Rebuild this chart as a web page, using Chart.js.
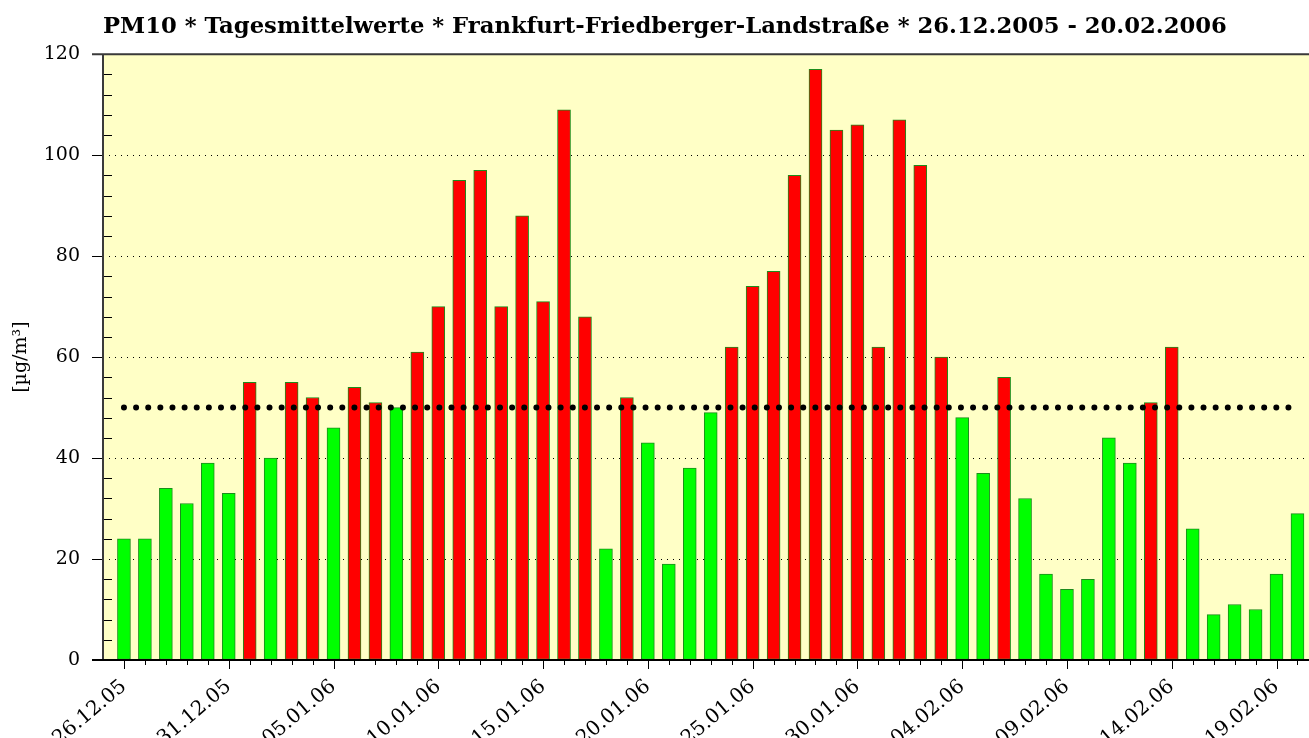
<!DOCTYPE html>
<html>
<head>
<meta charset="utf-8">
<script src="https://cdn.jsdelivr.net/npm/chart.js@4.4.0/dist/chart.umd.min.js"></script>
<style>
  html, body { margin: 0; padding: 0; background: #fff; }
  #wrap { width: 1309px; height: 738px; position: relative; }
</style>
</head>
<body>
<div id="wrap"><canvas id="pm10Chart"></canvas></div>
<script>
// --- DONNÉES ---
const dayLabels = [
  '26.12.05', '27.12.05', '28.12.05', '29.12.05', '30.12.05', '31.12.05',
  '01.01.06', '02.01.06', '03.01.06', '04.01.06', '05.01.06', '06.01.06', '07.01.06', '08.01.06',
  '09.01.06', '10.01.06', '11.01.06', '12.01.06', '13.01.06', '14.01.06', '15.01.06', '16.01.06',
  '17.01.06', '18.01.06', '19.01.06', '20.01.06', '21.01.06', '22.01.06', '23.01.06', '24.01.06',
  '25.01.06', '26.01.06', '27.01.06', '28.01.06', '29.01.06', '30.01.06', '31.01.06',
  '01.02.06', '02.02.06', '03.02.06', '04.02.06', '05.02.06', '06.02.06', '07.02.06', '08.02.06',
  '09.02.06', '10.02.06', '11.02.06', '12.02.06', '13.02.06', '14.02.06', '15.02.06', '16.02.06',
  '17.02.06', '18.02.06', '19.02.06', '20.02.06'
];
const pm10Values = [
  24, 24, 34, 31, 39, 33,
  55, 40, 55, 52, 46, 54, 51, 50,
  61, 70, 95, 97, 70, 88, 71, 109,
  68, 22, 52, 43, 19, 38, 49, 62,
  74, 77, 96, 117, 105, 106, 62,
  107, 98, 60, 48, 37, 56, 32, 17,
  14, 16, 44, 39, 51, 62, 26, 9,
  11, 10, 17, 29
];
const limitValue = 50;          // Grenzwert Tagesmittel
const yTickLabels = [0, 20, 40, 60, 80, 100, 120];

// --- STYLES ---
const plotBg = '#ffffc6';
const colorOver = '#ff0000';
const colorUnder = '#00ff00';
const barEdge = '#1c8c1c';
const serif = "'DejaVu Serif', 'Liberation Serif', serif";

// fond jaune + axes et graduations dessinés à la main
const plotFrame = {
  id: 'plotFrame',
  beforeDraw(chart) {
    const { ctx, chartArea: a } = chart;
    ctx.save();
    ctx.fillStyle = plotBg;
    ctx.fillRect(a.left, a.top, a.right - a.left, a.bottom - a.top);
    ctx.restore();
  },
  afterDraw(chart) {
    const { ctx, chartArea: a, scales } = chart;
    const xs = scales.x, ys = scales.y;
    ctx.save();
    ctx.strokeStyle = '#000';
    ctx.lineWidth = 1;
    ctx.beginPath();
    ys.ticks.forEach(t => {
      const py = Math.round(ys.getPixelForValue(t.value)) + 0.5;
      if (yTickLabels.includes(t.value)) {
        ctx.moveTo(a.left - 11, py); ctx.lineTo(a.left, py);
      } else {
        ctx.moveTo(a.left, py); ctx.lineTo(a.left + 9, py);
      }
    });
    xs.ticks.forEach(t => {
      const px = Math.round(xs.getPixelForValue(t.value)) + 0.5;
      const len = t.value % 5 === 0 ? 9 : 5;
      ctx.moveTo(px, a.bottom); ctx.lineTo(px, a.bottom + len);
    });
    ctx.stroke();

    ctx.lineWidth = 2;
    ctx.strokeStyle = '#3a3a3a';
    ctx.beginPath();
    ctx.moveTo(a.left, a.top); ctx.lineTo(a.left, a.bottom);
    ctx.moveTo(a.left - 11, a.top); ctx.lineTo(a.right, a.top);
    ctx.stroke();
    ctx.strokeStyle = '#000';
    ctx.beginPath();
    ctx.moveTo(a.left - 11, a.bottom); ctx.lineTo(a.right, a.bottom);
    ctx.stroke();
    ctx.restore();
  }
};

const ctx = document.getElementById('pm10Chart').getContext('2d');
const chart = new Chart(ctx, {
  data: {
    datasets: [
      {
        type: 'line',
        label: 'Grenzwert',
        data: [{ x: 0, y: limitValue }, { x: dayLabels.length - 1, y: limitValue }],
        borderColor: '#000',
        borderWidth: 6,
        borderDash: [0, 12.13],
        borderCapStyle: 'round',
        pointRadius: 0,
        fill: false,
        order: 0
      },
      {
        type: 'bar',
        label: 'PM10',
        data: pm10Values.map((v, i) => ({ x: i, y: v })),
        backgroundColor: pm10Values.map(v => v > limitValue ? colorOver : colorUnder),
        borderColor: barEdge,
        borderWidth: 1,
        borderSkipped: false,
        barThickness: 13,
        order: 1
      }
    ]
  },
  options: {
    responsive: true,
    maintainAspectRatio: false,
    animation: false,
    layout: { padding: 0 },
    plugins: {
      legend: { display: false },
      tooltip: { enabled: false },
      title: {
        display: true,
        fullSize: false,
        align: 'start',
        text: 'PM10 * Tagesmittelwerte * Frankfurt-Friedberger-Landstraße * 26.12.2005 - 20.02.2006',
        color: '#000',
        font: { family: serif, size: 22.7, weight: 'bold', lineHeight: 1.2 },
        padding: { top: 13, bottom: 14 }
      }
    },
    scales: {
      x: {
        type: 'linear',
        min: -1,
        max: 56.55,
        offset: false,
        afterBuildTicks: scale => { scale.ticks = dayLabels.map((_, i) => ({ value: i })); },
        afterFit: scale => { scale.height = 78; scale.paddingLeft = 0; scale.paddingRight = 0; },
        grid: { display: true, drawOnChartArea: false, drawTicks: false },
        border: { display: false },
        ticks: {
          autoSkip: false,
          minRotation: 40,
          maxRotation: 40,
          padding: 15,
          color: '#000',
          font: { family: serif, size: 20 },
          callback: value => value % 5 === 0 ? dayLabels[value] : ''
        }
      },
      y: {
        min: 0,
        max: 120,
        afterFit: scale => { scale.width = 103; },
        grid: {
          display: true,
          drawTicks: false,
          lineWidth: 1,
          color: c => (c.tick && yTickLabels.includes(c.tick.value) && c.tick.value > 0 && c.tick.value < 120) ? '#000' : 'rgba(0,0,0,0)'
        },
        border: { display: false, dash: [1, 5] },
        title: {
          display: true,
          text: '[µg/m³]',
          color: '#000',
          font: { family: serif, size: 19 },
          padding: { top: 10, bottom: 0 }
        },
        ticks: {
          stepSize: 4,
          autoSkip: false,
          padding: 23,
          color: '#000',
          font: { family: serif, size: 19 },
          callback: value => yTickLabels.includes(value) ? value : ''
        }
      }
    }
  },
  plugins: [plotFrame]
});
</script>
</body>
</html>
